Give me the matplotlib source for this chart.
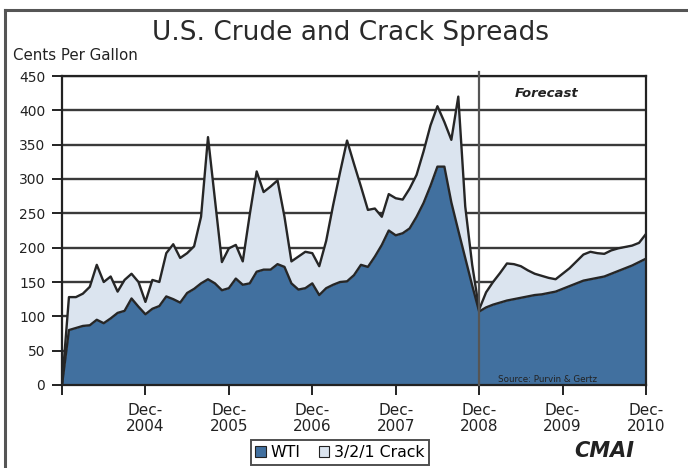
import matplotlib
matplotlib.use("Agg")
import matplotlib.pyplot as plt
import numpy as np
from matplotlib.patches import Rectangle
from matplotlib.lines import Line2D

plt.rcParams['font.family'] = ['DejaVu Sans']

# Monthly values, Dec-2003 .. Dec-2010 (cents per gallon)
wti = [0, 80, 83, 86, 87, 95, 90, 97, 105, 108, 126, 114,
       103, 111, 115, 129, 125, 120, 134, 140, 148, 154, 148, 138,
       141, 155, 146, 148, 165, 168, 168, 176, 172, 148, 139, 141,
       148, 131, 141, 146, 150, 151, 160, 175, 172, 187, 204, 225,
       218, 221, 228, 245, 265, 290, 318, 318, 266, 225, 185, 145,
       107, 113, 117, 120, 123, 125, 127, 129, 131, 132, 134, 136,
       140, 144, 148, 152, 154, 156, 158, 162, 166, 170, 174, 179,
       184]
crack = [0, 48, 45, 47, 56, 80, 60, 61, 31, 45, 36, 36,
         18, 42, 35, 63, 80, 65, 58, 62, 97, 207, 122, 41,
         58, 49, 34, 100, 146, 113, 121, 122, 73, 32, 48, 53,
         44, 42, 69, 116, 160, 205, 162, 114, 83, 70, 41, 53,
         54, 49, 58, 61, 75, 88, 88, 65, 91, 195, 75, 30,
         3, 22, 33, 43, 54, 51, 46, 38, 31, 27, 22, 18,
         22, 26, 32, 38, 40, 36, 33, 34, 33, 31, 29, 28,
         36]
tick_labels = ["", "Dec-\n2004", "Dec-\n2005", "Dec-\n2006", "Dec-\n2007",
               "Dec-\n2008", "Dec-\n2009", "Dec-\n2010"]
y_ticks = [0, 50, 100, 150, 200, 250, 300, 350, 400, 450]
forecast_start = 60  # Dec-2008 month index

months = np.arange(len(wti))
wti_a = np.array(wti, float)
top_a = wti_a + np.array(crack, float)

W, H = 688, 468
fig = plt.figure(figsize=(W / 100, H / 100), dpi=100)

blue = '#41709f'
light = '#dbe4ef'
edge = '#262626'

ax = fig.add_axes([62 / W, 1 - 385 / H, (646 - 62) / W, (385 - 76) / H])
ax.fill_between(months, 0, wti_a, color=blue, lw=0, zorder=2)
ax.fill_between(months, wti_a, top_a, color=light, lw=0, zorder=2)
ax.plot(months, wti_a, color=edge, lw=1.7, zorder=3)
ax.plot(months, top_a, color=edge, lw=1.7, zorder=3)

ax.set_xlim(0, 84)
ax.set_ylim(0, 450)
ax.set_yticks(y_ticks)
ax.set_yticklabels([str(v) for v in y_ticks])
ax.set_xticks(np.arange(0, 85, 12))
ax.set_xticklabels(tick_labels, fontsize=11, linespacing=1.05)
ax.yaxis.grid(True, color='#3a3a3a', lw=1.7, zorder=1)
ax.set_axisbelow(True)
ax.tick_params(axis='both', direction='out', length=7, width=1.4, color='#222',
               labelcolor='#222')
ax.tick_params(axis='y', labelsize=10, pad=5)
ax.tick_params(axis='x', pad=6)
for s in ax.spines.values():
    s.set_color('#222')
    s.set_linewidth(1.6)
ax.spines['top'].set_zorder(4)

# forecast divider
ax.plot([forecast_start, forecast_start], [0, 456], color='#555555', lw=1.6,
        zorder=5, clip_on=False)
ax.text(69.7, 425, "Forecast", fontsize=9.5, style='italic', fontweight='bold',
        ha='center', va='center', color='#222', zorder=6)
ax.text(69.9, 1.5, "Source: Purvin & Gertz", fontsize=6.3, ha='center', va='bottom',
        color='#222', zorder=6)

# title and unit label
fig.text(350 / W, 1 - 33 / H, "U.S. Crude and Crack Spreads", fontsize=19,
         ha='center', va='center', color='#2a2a2a')
fig.text(13 / W, 1 - 55 / H, "Cents Per Gallon", fontsize=10.8, ha='left',
         va='center', color='#222')

# outer frame (top and left edges)
fig.add_artist(Line2D([5 / W, 1], [1 - 10 / H, 1 - 10 / H], color='#555', lw=2.2))
fig.add_artist(Line2D([5 / W, 5 / W], [1 - 10 / H, 0], color='#555', lw=2.2))

# legend
handles = [Rectangle((0, 0), 1, 1, facecolor=blue, edgecolor='#222', lw=0.8),
           Rectangle((0, 0), 1, 1, facecolor=light, edgecolor='#222', lw=0.8)]
leg = fig.legend(handles, ["WTI", "3/2/1 Crack"], loc='center',
                 bbox_to_anchor=(340 / W, 1 - 452.5 / H), ncol=2, fontsize=11.3,
                 frameon=True, fancybox=False, edgecolor='#222',
                 handlelength=0.65, handleheight=0.65, handletextpad=0.3,
                 columnspacing=1.2, borderpad=0.3, borderaxespad=0)
leg.get_frame().set_linewidth(1.4)

# logo
fig.text(604 / W, 1 - 451 / H, "CMAI", fontsize=15, style='italic',
         fontweight='bold', ha='center', va='center', color='#222')

fig.savefig("out.png", dpi=100)
